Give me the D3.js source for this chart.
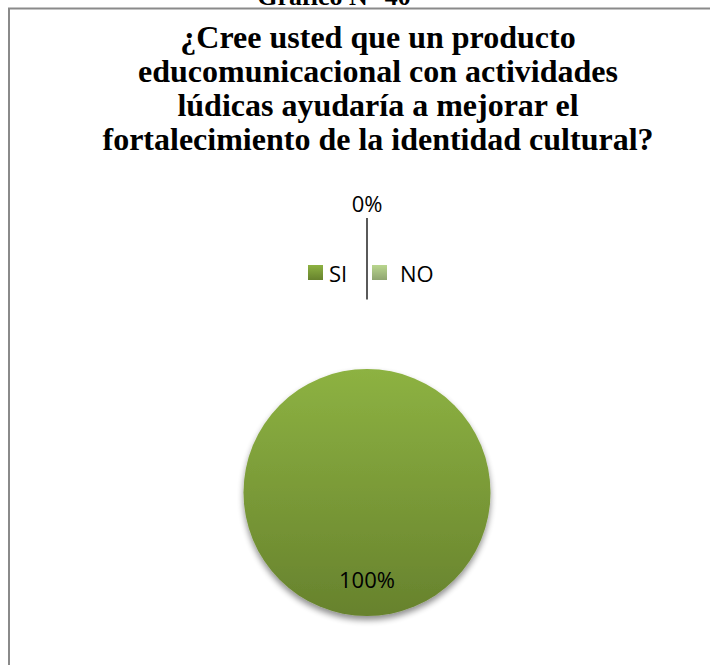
<!DOCTYPE html>
<html><head><meta charset="utf-8">
<script src="https://cdn.jsdelivr.net/npm/d3@7"></script>
<style>body{margin:0;background:#fff}svg{display:block}
.serif{font-family:"Liberation Serif","Times New Roman",Times,"DejaVu Serif",serif;font-weight:bold}
.lbl{font-family:"Open Sans","Noto Sans",sans-serif}
</style>
</head><body>
<svg id="c" width="710" height="665"></svg>
<script>
const categories = ["SI", "NO"];
const values = [100, 0];
const labels = ["100%", "0%"];
const titleLines = ["¿Cree usted que un producto", "educomunicacional con actividades", "lúdicas ayudaría a mejorar el", "fortalecimiento de la identidad cultural?"];
const captionText = "Gráfico N° 40";

const svg = d3.select("#c");
const defs = svg.append("defs");
const g1 = defs.append("linearGradient").attr("id","gSI").attr("x1",0).attr("y1",0).attr("x2",0).attr("y2",1);
g1.append("stop").attr("offset","0%").attr("stop-color","#8db242");
g1.append("stop").attr("offset","100%").attr("stop-color","#67822d");
const g2 = defs.append("linearGradient").attr("id","gNO").attr("x1",0).attr("y1",0).attr("x2",0).attr("y2",1);
g2.append("stop").attr("offset","0%").attr("stop-color","#b9d68e");
g2.append("stop").attr("offset","100%").attr("stop-color","#8fa570");
const f = defs.append("filter").attr("id","sh").attr("x","-20%").attr("y","-20%").attr("width","140%").attr("height","150%");
f.append("feGaussianBlur").attr("in","SourceAlpha").attr("stdDeviation",3).attr("result","b");
f.append("feOffset").attr("in","b").attr("dy",4).attr("result","o");
f.append("feComponentTransfer").attr("in","o").attr("result","o2").append("feFuncA").attr("type","linear").attr("slope",0.45);
const m = f.append("feMerge"); m.append("feMergeNode").attr("in","o2"); m.append("feMergeNode").attr("in","SourceGraphic");

const color = d3.scaleOrdinal().domain(categories).range(["url(#gSI)","url(#gNO)"]);

// caption (cut at top, as in the reference)
svg.append("text").attr("class","serif").attr("x",334).attr("y",5).attr("text-anchor","middle")
  .attr("font-size",26).text(captionText);

// frame
svg.append("rect").attr("x",9).attr("y",8.5).attr("width",760).attr("height",720)
  .attr("fill","#fff").attr("stroke","#8a8a8a").attr("stroke-width",2);

// title
svg.append("g").selectAll("text").data(titleLines).join("text")
  .attr("class","serif")
  .attr("x",378).attr("y",(d,i)=>48+i*34).attr("text-anchor","middle")
  .attr("font-size",32)
  .text(d=>d);

const cx = 367, cy = 492.5, r = 123.5;
const pie = d3.pie().sort(null).value(d=>d.v);
const data = pie(categories.map((c,i)=>({c, v:values[i], l:labels[i]})));
const arc = d3.arc().innerRadius(0).outerRadius(r);
const pg = svg.append("g").attr("transform",`translate(${cx},${cy})`);
pg.selectAll("path").data(data).join("path")
  .attr("d",arc).attr("fill",d=>color(d.data.c)).attr("filter","url(#sh)");

// labels
const inArc = d3.arc().innerRadius(88).outerRadius(88);
const outArc = d3.arc().innerRadius(275).outerRadius(275);
data.forEach(d=>{
  if (d.data.v > 0) {
    const [x,y] = inArc.centroid(d);
    pg.append("text").attr("class","lbl").attr("x",x).attr("y",y+7).attr("text-anchor","middle")
      .attr("font-size",22).attr("fill","#000").text(d.data.l);
  } else {
    const [x,y] = outArc.centroid(d);
    pg.append("text").attr("class","lbl").attr("x",x).attr("y",y-5.5).attr("text-anchor","middle")
      .attr("font-size",22).attr("fill","#000").text(d.data.l);
    pg.append("line").attr("x1",x).attr("x2",x).attr("y1",y+0.5).attr("y2",y+82)
      .attr("stroke","#000").attr("stroke-width",1.3);
  }
});

// legend
const legX = [308, 372];
const lg = svg.append("g");
categories.forEach((c,i)=>{
  lg.append("rect").attr("x",legX[i]).attr("y",265).attr("width",15).attr("height",15).attr("fill",color(c));
  lg.append("text").attr("class","lbl").attr("x",legX[i]+(i===0?21:28)).attr("y",282)
    .attr("font-size",22).attr("fill","#000").text(c);
});
</script>
</body></html>
